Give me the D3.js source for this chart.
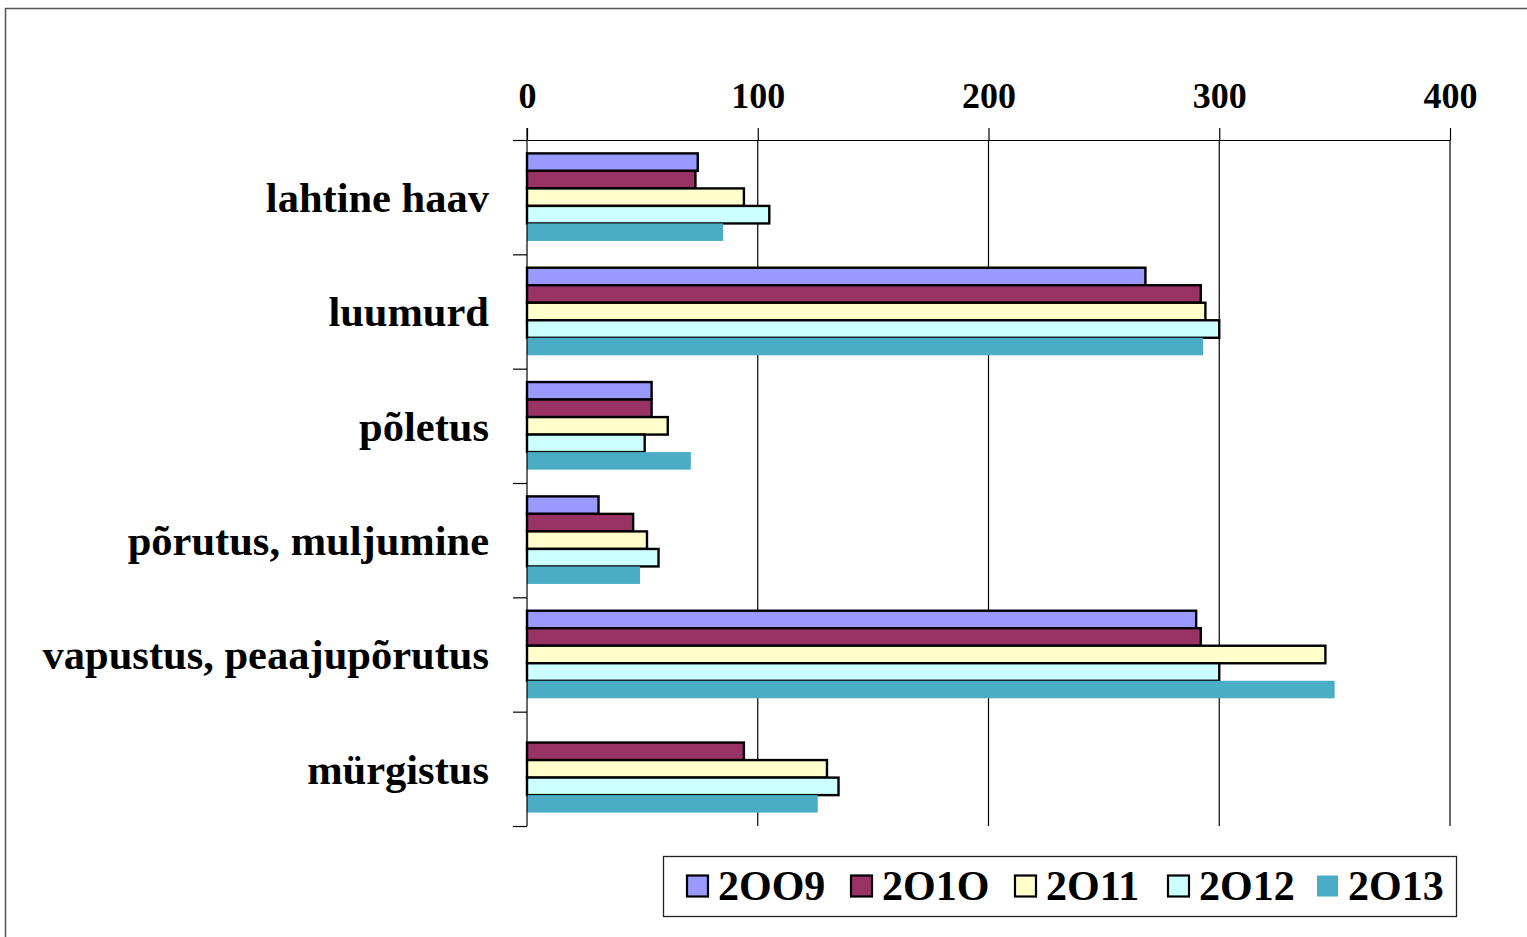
<!DOCTYPE html>
<html>
<head>
<meta charset="utf-8">
<script src="https://cdn.jsdelivr.net/npm/d3@7"></script>
<style>
  html, body { margin: 0; padding: 0; background: #fff; }
  svg { display: block; }
  text { font-family: "Liberation Serif", "Times New Roman", serif; font-weight: bold; fill: #000; }
</style>
</head>
<body>
<svg id="chart" width="1527" height="937"></svg>
<script>
// Injury types (rows) and yearly counts per series
const categories = ["lahtine haav", "luumurd", "põletus", "põrutus, muljumine", "vapustus, peaajupõrutus", "mürgistus"];
const years = ["2OO9", "2O1O", "2O11", "2O12", "2O13"];
const values2009 = [74, 268, 54, 31, 290, 0];
const values2010 = [73, 292, 54, 46, 292, 94];
const values2011 = [94, 294, 61, 52, 346, 130];
const values2012 = [105, 300, 51, 57, 300, 135];
const values2013 = [85, 293, 71, 49, 350, 126];
const xTicks = [0, 100, 200, 300, 400];

const seriesValues = [values2009, values2010, values2011, values2012, values2013];
const fills = ["#9999ff", "#993366", "#ffffcc", "#ccffff", "#4bacc6"];
const strokes = ["#000", "#000", "#000", "#000", "none"];

const svg = d3.select("#chart");

// outer frame
svg.append("rect")
  .attr("x", 5.5).attr("y", 8.5).attr("width", 1600).attr("height", 1000)
  .attr("fill", "none").attr("stroke", "#555").attr("stroke-width", 1.5);

const x = d3.scaleLinear().domain([0, 400]).range([527, 1450]);
const y = d3.scaleBand().domain(categories).range([140, 826]).padding(0);
const ySub = d3.scaleBand().domain(years)
  .range([y.bandwidth() * 0.117, y.bandwidth() * 0.883]).padding(0);

// vertical gridlines
svg.append("g").selectAll("line").data(xTicks.slice(1)).join("line")
  .attr("x1", d => x(d)).attr("x2", d => x(d))
  .attr("y1", 140).attr("y2", 826)
  .attr("stroke", "#000").attr("stroke-width", 1.2);

// bars
const groups = svg.append("g").selectAll("g").data(years).join("g");
groups.each(function (yr, si) {
  d3.select(this).selectAll("rect")
    .data(categories.map((c, ci) => ({ c, v: seriesValues[si][ci] })).filter(d => d.v > 0))
    .join("rect")
    .attr("x", x(0))
    .attr("y", d => y(d.c) + ySub(yr))
    .attr("width", d => x(d.v) - x(0))
    .attr("height", ySub.bandwidth())
    .attr("fill", fills[si])
    .attr("stroke", strokes[si])
    .attr("stroke-width", 2.4);
});

// top value axis
const xAxis = svg.append("g")
  .attr("transform", "translate(0,140)")
  .call(d3.axisTop(x).tickValues(xTicks).tickSize(12).tickPadding(20).tickSizeOuter(0));
xAxis.select(".domain").attr("stroke", "#000").attr("stroke-width", 1.2);
xAxis.selectAll(".tick line").attr("stroke", "#000").attr("stroke-width", 1.2);
xAxis.selectAll(".tick text")
  .attr("font-family", "Liberation Serif, Times New Roman, serif")
  .attr("font-weight", "bold").attr("font-size", 36).attr("fill", "#000");

// category axis: boundary ticks between rows
const yB = d3.scaleLinear().domain([0, categories.length]).range([140, 826]);
const yAxis = svg.append("g")
  .attr("transform", `translate(${x(0)},0)`)
  .call(d3.axisLeft(yB).tickValues(d3.range(categories.length + 1)).tickSize(14).tickFormat(""));
yAxis.select(".domain").attr("stroke", "#000").attr("stroke-width", 1.2).attr("d", "M0,128V826");
yAxis.selectAll(".tick line").attr("stroke", "#000").attr("stroke-width", 1.2);

// category labels
svg.append("g").selectAll("text").data(categories).join("text")
  .attr("x", 489)
  .attr("y", d => y(d) + y.bandwidth() / 2)
  .attr("dy", "0.35em")
  .attr("text-anchor", "end")
  .attr("font-size", 42.5)
  .text(d => d);

// legend
const legend = svg.append("g");
legend.append("rect")
  .attr("x", 663.5).attr("y", 856.5).attr("width", 793).attr("height", 60)
  .attr("fill", "#fff").attr("stroke", "#222").attr("stroke-width", 1.3);
const legendX = [687, 851, 1015, 1168, 1317];
years.forEach((yr, i) => {
  legend.append("rect")
    .attr("x", legendX[i]).attr("y", 875.5).attr("width", 21).attr("height", 21)
    .attr("fill", fills[i])
    .attr("stroke", strokes[i]).attr("stroke-width", 2.2);
  legend.append("text")
    .attr("x", legendX[i] + 31).attr("y", 900)
    .attr("font-size", 42)
    .text(yr);
});
</script>
</body>
</html>
